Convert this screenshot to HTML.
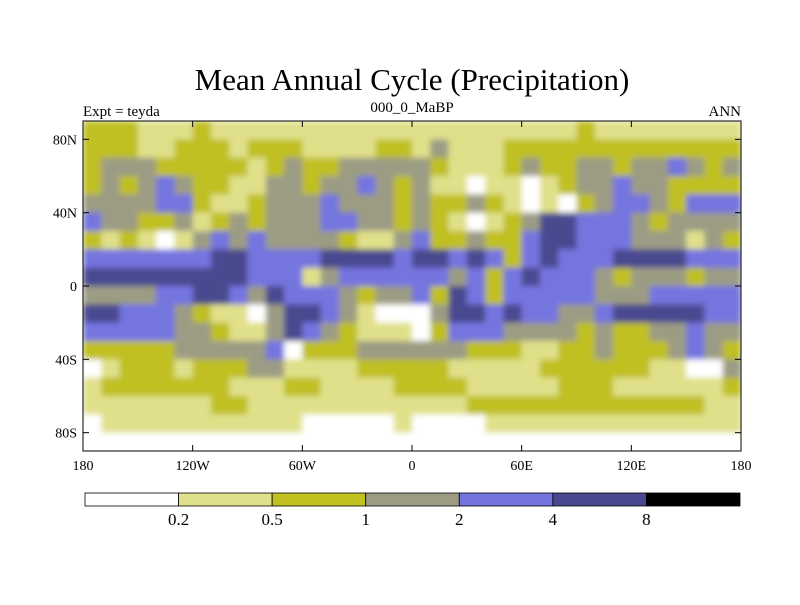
<!DOCTYPE html>
<html><head><meta charset="utf-8"><style>
body{margin:0;background:#fff;}
svg text{font-family:"Liberation Serif",serif;fill:#000;}
</style></head><body>
<svg id="chart" width="800" height="600" xmlns="http://www.w3.org/2000/svg">
<defs>
<clipPath id="mapclip"><rect x="83" y="121" width="658" height="330"/></clipPath>
<filter id="soft" x="0" y="0" width="1" height="1"><feGaussianBlur stdDeviation="3" edgeMode="duplicate"/></filter>
</defs>
<rect width="800" height="600" fill="#fff"/>
<text x="412" y="90" font-size="31" text-anchor="middle">Mean Annual Cycle (Precipitation)</text>
<text x="83" y="116" font-size="15">Expt = teyda</text>
<text x="412" y="112" font-size="15" text-anchor="middle">000_0_MaBP</text>
<text x="741" y="116" font-size="15" text-anchor="end">ANN</text>
<g clip-path="url(#mapclip)"><g id="cells" filter="url(#soft)"></g></g>
<rect x="83" y="121" width="658" height="330" fill="none" stroke="#000" stroke-width="1"/>
<g id="axes"></g>
<g id="cbar"></g>
</svg>
<script>
const levels = ["0.2","0.5","1","2","4","8"];
const palette = ["#ffffff","#e0e08a","#c0c020","#9c9c84","#7474e0","#484890","#000000"];
const lonTicks = [-180,-120,-60,0,60,120,180];
const lonLabels = ["180","120W","60W","0","60E","120E","180"];
const latTicks = [80,40,0,-40,-80];
const latLabels = ["80N","40N","0","40S","80S"];
const row0  = [2,2,2,1,1,1,2,1,1,1,1,1,1,1,1,1,1,1, 1,1,1,1,1,1,1,1,1,2,1,1,1,1,1,1,1,1];
const row1  = [2,2,2,1,1,2,2,2,1,2,2,2,1,1,1,1,2,2, 1,3,1,1,1,2,2,2,2,2,2,2,2,2,2,2,2,2];
const row2  = [2,3,3,3,2,2,2,2,2,1,2,3,2,2,3,3,3,3, 3,2,1,1,1,2,3,2,2,3,3,2,3,3,4,3,2,3];
const row3  = [2,3,2,3,4,3,2,2,1,1,3,3,2,3,3,4,3,2, 3,1,1,0,1,1,0,1,2,3,3,4,3,3,2,2,2,2];
const row4  = [3,3,3,3,4,4,2,1,1,2,3,3,3,4,3,3,3,2, 3,2,2,3,2,1,0,1,0,2,3,4,4,3,2,4,4,4];
const row5  = [4,3,3,2,2,3,1,2,3,2,3,3,3,4,4,3,3,2, 3,2,1,0,1,2,3,5,5,4,4,4,3,2,3,3,3,3];
const row6  = [2,1,2,1,0,1,3,4,3,4,3,3,3,3,2,1,1,3, 4,2,2,3,2,2,4,5,5,4,4,4,3,3,3,1,3,2];
const row7  = [4,4,4,4,4,4,4,5,5,4,4,4,4,5,5,5,5,4, 5,5,4,5,4,2,4,5,4,4,4,5,5,5,5,4,4,4];
const row8  = [5,5,5,5,5,5,5,5,5,4,4,4,1,3,4,4,4,4, 4,4,3,4,2,4,5,4,4,4,3,2,3,3,3,2,3,3];
const row9  = [3,3,3,3,4,4,5,5,4,3,5,4,4,4,3,2,3,3, 4,2,5,4,2,4,4,4,4,4,3,3,3,4,4,4,4,4];
const row10 = [5,5,4,4,4,3,2,1,1,0,3,5,5,4,3,1,0,0, 0,3,5,5,4,5,4,4,3,3,4,5,5,5,5,5,4,4];
const row11 = [4,4,4,4,4,3,3,2,1,1,3,5,4,3,2,1,1,1, 0,2,4,4,4,3,3,3,3,2,3,2,2,3,3,4,3,3];
const row12 = [2,2,2,2,2,3,3,3,3,3,4,0,2,2,2,3,3,3, 3,3,3,2,2,2,1,1,2,2,3,2,2,2,3,4,3,2];
const row13 = [0,1,2,2,2,1,2,2,2,3,3,1,1,1,1,2,2,2, 2,2,1,1,1,1,1,2,2,2,2,2,2,1,1,0,0,3];
const row14 = [1,2,2,2,2,2,2,2,1,1,1,2,2,1,1,1,1,2, 2,2,2,1,1,1,1,1,2,2,2,1,1,1,1,1,1,2];
const row15 = [1,1,1,1,1,1,1,2,2,1,1,1,1,1,1,1,1,1, 1,1,1,2,2,2,2,2,2,2,2,2,2,2,2,2,1,1];
const row16 = [0,1,1,1,1,1,1,1,1,1,1,1,0,0,0,0,0,1, 0,0,0,0,1,1,1,1,1,1,1,1,1,1,1,1,1,1];
const row17 = [0,0,0,0,0,0,0,0,0,0,0,0,0,0,0,0,0,0, 0,0,0,0,0,0,0,0,0,0,0,0,0,0,0,0,0,0];
const grid = [row0,row1,row2,row3,row4,row5,row6,row7,row8,row9,row10,row11,row12,row13,row14,row15,row16,row17];

const NS="http://www.w3.org/2000/svg";
const X0=83,X1=741,Y0=121,Y1=451;
const xs = lon => X0+(lon+180)/360*(X1-X0);
const ys = lat => Y0+(90-lat)/180*(Y1-Y0);
function mk(tag,attrs,parent){const e=document.createElementNS(NS,tag);for(const k in attrs)e.setAttribute(k,attrs[k]);parent.appendChild(e);return e;}

const cells=document.getElementById('cells');
const nr=grid.length;
grid.forEach((row,i)=>{
  const nc=row.length, dLon=360/nc, dLat=180/nr;
  row.forEach((v,j)=>{
    const lon=-180+j*dLon, lat=90-i*dLat;
    const r=mk('rect',{x:xs(lon),y:ys(lat),width:xs(lon+dLon)-xs(lon)+0.5,height:ys(lat-dLat)-ys(lat)+0.5,fill:palette[v]},cells);
    
    
  });
});

const axes=document.getElementById('axes');
lonTicks.forEach((lon,k)=>{
  mk('line',{x1:xs(lon),x2:xs(lon),y1:Y1,y2:Y1-6,stroke:'#000'},axes);
  mk('line',{x1:xs(lon),x2:xs(lon),y1:Y0,y2:Y0+6,stroke:'#000'},axes);
  const t=mk('text',{x:xs(lon),y:Y1+19,'font-size':14,'text-anchor':'middle'},axes);
  t.textContent=lonLabels[k];
  
  
});
latTicks.forEach((lat,k)=>{
  mk('line',{x1:X0,x2:X0+6,y1:ys(lat),y2:ys(lat),stroke:'#000'},axes);
  mk('line',{x1:X1,x2:X1-6,y1:ys(lat),y2:ys(lat),stroke:'#000'},axes);
  const t=mk('text',{x:X0-6,y:ys(lat)+5,'font-size':14,'text-anchor':'end'},axes);
  t.textContent=latLabels[k];
  
  
});

const cbar=document.getElementById('cbar');
const CX0=85,CX1=740,CY=493,CH=13,bw=(CX1-CX0)/palette.length;
palette.forEach((c,k)=>{
  const r=mk('rect',{x:CX0+k*bw,y:CY,width:bw,height:CH,fill:c,stroke:'#000','stroke-width':0.8},cbar);
  
  
});
levels.forEach((l,k)=>{
  const t=mk('text',{x:CX0+(k+1)*bw,y:CY+CH+19,'font-size':17,'text-anchor':'middle'},cbar);
  t.textContent=l;
  
  
});
</script>
</body></html>
